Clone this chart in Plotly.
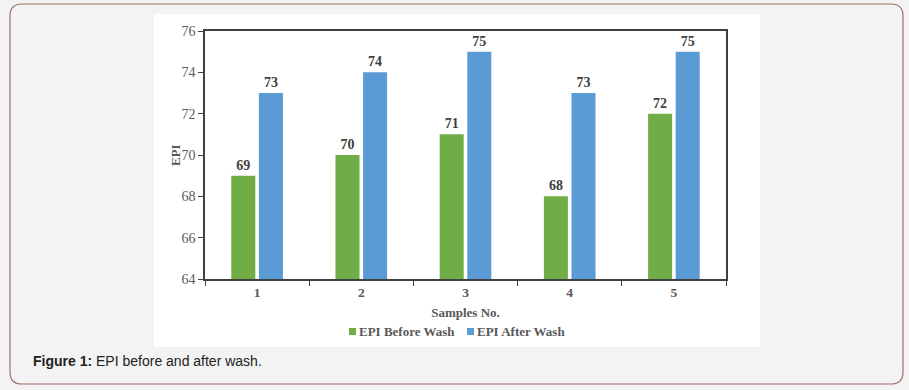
import plotly.graph_objects as go

categories = ["1", "2", "3", "4", "5"]
before_wash = [69, 70, 71, 68, 72]
after_wash = [73, 74, 75, 73, 75]
y_ticks = [64, 66, 68, 70, 72, 74, 76]
series_names = ["EPI Before Wash", "EPI After Wash"]
series_colors = ["#70AD47", "#5B9BD5"]

W, H = 909, 390
def px(x): return x / W
def py(y): return 1 - y / H

serif = "Liberation Serif, Times New Roman, serif"
gray = "#595959"

fig = go.Figure()
for name, vals, col in zip(series_names, [before_wash, after_wash], series_colors):
    fig.add_trace(go.Bar(
        x=categories, y=vals, name=name,
        marker=dict(color=col, line=dict(width=0)),
        text=[str(v) for v in vals], textposition="outside",
        textfont=dict(family=serif, size=14, color="#404040", weight=700),
        cliponaxis=False, showlegend=False, hoverinfo="skip",
    ))

x0, x1, y0, y1, r = 10, 903, 4, 384, 12
def P(x, y): return f"{px(x):.5f},{py(y):.5f}"
path = (f"M {P(x0+r, y0)} L {P(x1-r, y0)} Q {P(x1, y0)} {P(x1, y0+r)} "
        f"L {P(x1, y1-r)} Q {P(x1, y1)} {P(x1-r, y1)} "
        f"L {P(x0+r, y1)} Q {P(x0, y1)} {P(x0, y1-r)} "
        f"L {P(x0, y0+r)} Q {P(x0, y0)} {P(x0+r, y0)} Z")

legend_x = [349, 467]
annotations = [
    dict(xref="paper", yref="paper", x=px(31), y=py(361),
         xanchor="left", yanchor="middle", showarrow=False,
         text="<b>Figure 1:</b> EPI before and after wash.",
         font=dict(family="Liberation Sans, Arial, sans-serif", size=14,
                   color="#222222")),
    dict(xref="paper", yref="paper", x=px(176), y=py(155),
         xanchor="center", yanchor="middle", showarrow=False, textangle=-90,
         text="EPI",
         font=dict(family=serif, size=13, color=gray, weight=700)),
]
shapes = [
    dict(type="path", xref="paper", yref="paper", path=path,
         line=dict(color="#a0736b", width=1.2), fillcolor="rgba(0,0,0,0)",
         layer="below"),
    dict(type="rect", xref="paper", yref="paper",
         x0=px(154), x1=px(760), y0=py(347), y1=py(14),
         fillcolor="white", line=dict(width=0), layer="below"),
]
for name, col, lx in zip(series_names, series_colors, legend_x):
    shapes.append(dict(type="rect", xref="paper", yref="paper",
                       x0=px(lx), x1=px(lx + 7), y0=py(335), y1=py(328),
                       fillcolor=col, line=dict(width=0)))
    annotations.append(dict(xref="paper", yref="paper", x=px(lx + 8), y=py(331),
                            xanchor="left", yanchor="middle", showarrow=False,
                            text=name,
                            font=dict(family=serif, size=13, color=gray, weight=700)))

fig.update_layout(
    width=W, height=H, autosize=False,
    margin=dict(l=0, r=0, t=0, b=0, pad=0),
    paper_bgcolor="#f3f3f3",
    plot_bgcolor="white",
    barmode="group",
    bargap=0.47,
    bargroupgap=0.13,
    showlegend=False,
    hovermode=False,
    xaxis=dict(domain=[px(205), px(726)], automargin=False, showline=True,
               linecolor="#404040", linewidth=1.5, mirror=True, ticks="outside",
               tickson="boundaries", ticklen=5, tickcolor="#404040",
               tickfont=dict(family=serif, size=13.5, color=gray, weight=700),
               title=dict(text="Samples No.", standoff=9,
                          font=dict(family=serif, size=13, color=gray, weight=700))),
    yaxis=dict(domain=[py(279), py(31)], automargin=False, range=[64, 76],
               tickvals=y_ticks, showgrid=False, zeroline=False, showline=True,
               linecolor="#404040", linewidth=1.5, mirror=True, ticks="outside",
               ticklen=5, tickcolor="#404040",
               tickfont=dict(family=serif, size=14, color=gray)),
    shapes=shapes,
    annotations=annotations,
)

fig.write_html("out.html", config={"displayModeBar": False},
               post_script="document.body.style.margin='0';")
